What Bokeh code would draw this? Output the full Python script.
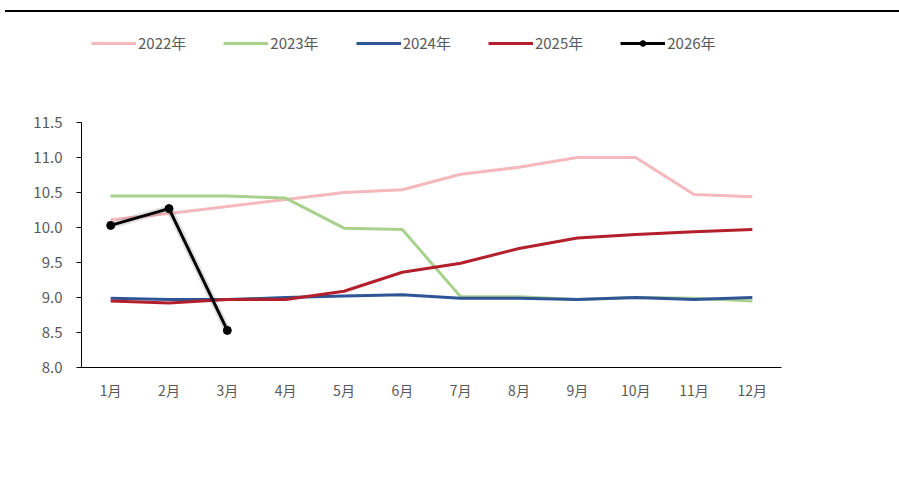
from bokeh.plotting import figure
from bokeh.models import Legend, LegendItem, Range1d, FactorRange, FixedTicker, Div
from bokeh.layouts import column
from bokeh.embed import file_html
from bokeh.resources import INLINE

months = ["1月", "2月", "3月", "4月", "5月", "6月", "7月", "8月", "9月", "10月", "11月", "12月"]
y2022 = [10.11, 10.20, 10.30, 10.40, 10.50, 10.54, 10.76, 10.86, 11.00, 11.00, 10.47, 10.44]
y2023 = [10.45, 10.45, 10.45, 10.42, 9.99, 9.97, 9.01, 9.01, 8.97, 9.00, 8.99, 8.95]
y2024 = [8.99, 8.97, 8.97, 9.00, 9.02, 9.04, 8.99, 8.99, 8.97, 9.00, 8.97, 9.00]
y2025 = [8.95, 8.92, 8.97, 8.97, 9.09, 9.36, 9.49, 9.70, 9.85, 9.90, 9.94, 9.97]
months_2026 = ["1月", "2月", "3月"]
y2026 = [10.03, 10.27, 8.53]
y_ticks = [8.0, 8.5, 9.0, 9.5, 10.0, 10.5, 11.0, 11.5]
series_names = ["2022年", "2023年", "2024年", "2025年", "2026年"]
colors = ["#F4B8BD", "#A9D18E", "#2F5597", "#B3202B", "black"]

FONT = "Noto Sans CJK SC"
TXT = "#595959"
W = 883

# main chart
p = figure(width=W, height=431, x_range=FactorRange(*months, range_padding=0),
           y_range=Range1d(8.0, 11.5), output_backend="svg", toolbar_location=None,
           min_border_left=81, min_border_right=102, min_border_top=68, min_border_bottom=118)
p.outline_line_color = None
p.xgrid.grid_line_color = None
p.ygrid.grid_line_color = None

all_series = [y2022, y2023, y2024, y2025]
for ys, c in zip(all_series, colors[:4]):
    p.line(months, ys, line_color=c, line_width=3)
# soft shadow under the 2026 line
p.line(months_2026, y2026, line_color="#000000", line_alpha=0.12, line_width=7)
p.line(months_2026, y2026, line_color=colors[4], line_width=3)
p.scatter(months_2026, y2026, size=8, fill_color=colors[4], line_color=colors[4])

p.yaxis.ticker = FixedTicker(ticks=y_ticks)
p.yaxis.major_label_overrides = {t: f"{t:.1f}" for t in y_ticks}
p.yaxis.major_tick_out = 5
p.yaxis.major_tick_in = 0
p.yaxis.minor_tick_line_color = None
p.yaxis.axis_line_color = "black"
p.yaxis.major_tick_line_color = "black"
p.yaxis.major_label_standoff = 14
p.yaxis.major_label_text_font = FONT
p.yaxis.major_label_text_font_size = "15px"
p.yaxis.major_label_text_color = TXT

p.xaxis.major_tick_line_color = None
p.xaxis.axis_line_color = "black"
p.xaxis.major_label_text_font = FONT
p.xaxis.major_label_text_font_size = "14px"
p.xaxis.major_label_text_color = TXT
p.xaxis.major_label_standoff = 6

# legend strip (its renderers use the series values, which fall outside this strip's range)
lg = figure(width=W, height=37, x_range=Range1d(0, 1), y_range=Range1d(0, 1),
            output_backend="svg", toolbar_location=None,
            min_border=0, min_border_left=0, min_border_right=0,
            min_border_top=0, min_border_bottom=0)
lg.axis.visible = False
lg.grid.visible = False
lg.outline_line_color = None
items = []
legend_data = all_series + [y2026]
for i, (name, c, ys) in enumerate(zip(series_names, colors, legend_data)):
    rs = [lg.line(x=ys, y=ys, line_color=c, line_width=3)]
    if i == 4:
        rs.append(lg.scatter(x=ys, y=ys, size=8, fill_color=c, line_color=c))
    items.append(LegendItem(label=name, renderers=rs))
legend = Legend(items=items, orientation="horizontal", location=(10, 1),
                label_text_font=FONT, label_text_font_size="15px", label_text_color=TXT,
                glyph_width=45, glyph_height=14, label_standoff=2, spacing=37,
                border_line_color=None, background_fill_alpha=0, padding=0, margin=0)
lg.add_layout(legend, "center")

top = Div(text="", width=895, height=7,
          styles={"border-bottom": "2px solid black", "box-sizing": "border-box"})

layout = column(top, lg, p, spacing=0)
open("out.html", "w").write(file_html(layout, INLINE))
